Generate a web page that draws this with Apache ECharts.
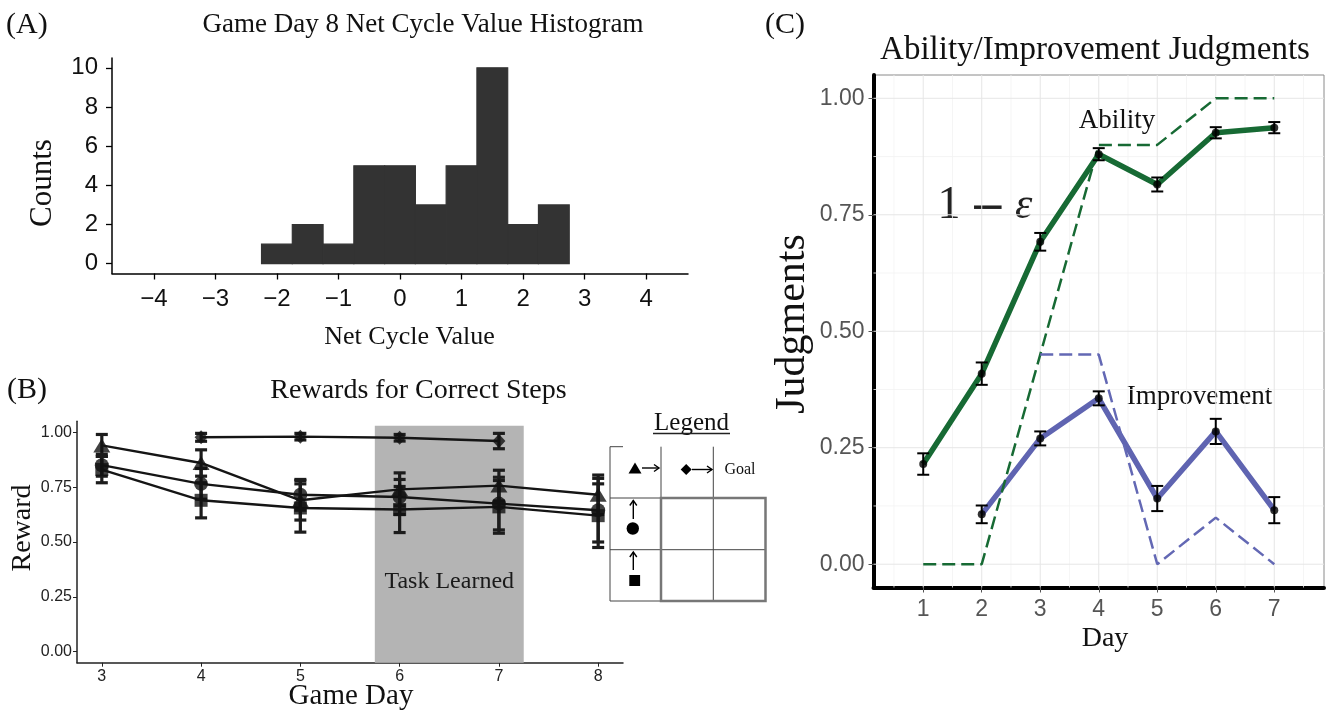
<!DOCTYPE html>
<html><head><meta charset="utf-8">
<script src="https://cdn.jsdelivr.net/npm/echarts@6/dist/echarts.min.js"></script>
<style>html,body{margin:0;padding:0;background:#fff}#chart{width:1326px;height:711px}</style>
</head><body><div id="chart"></div>
<script>
// ---------- Panel A: histogram ----------
const histBinLeft = [-2.25, -1.75, -1.25, -0.75, -0.25, 0.25, 0.75, 1.25, 1.75, 2.25];
const histCounts = [1, 2, 1, 5, 5, 3, 5, 10, 2, 3];
const histBinWidth = 0.5;
const histXTicks = [-4, -3, -2, -1, 0, 1, 2, 3, 4];
const histYTicks = [0, 2, 4, 6, 8, 10];

// ---------- Panel B: rewards ----------
const gameDays = [3, 4, 5, 6, 7, 8];
const rewardTriangle = [0.94, 0.86, 0.69, 0.74, 0.757, 0.715];
const rewardTriangleErr = [0.05, 0.06, 0.09, 0.075, 0.07, 0.09];
const rewardCircle = [0.85, 0.765, 0.715, 0.705, 0.675, 0.645];
const rewardCircleErr = [0.05, 0.07, 0.07, 0.08, 0.12, 0.145];
const rewardSquare = [0.83, 0.69, 0.655, 0.648, 0.66, 0.62];
const rewardSquareErr = [0.06, 0.08, 0.11, 0.105, 0.12, 0.145];
const rewardDiamond = [null, 0.977, 0.98, 0.975, 0.96, null];
const rewardDiamondErr = [null, 0.018, 0.015, 0.015, 0.035, null];
const rewardYTicks = [0, 0.25, 0.5, 0.75, 1];
const taskLearnedSpan = [5.75, 7.25];

// ---------- Panel C: judgments ----------
const judgDays = [1, 2, 3, 4, 5, 6, 7];
const abilityMean = [0.215, 0.409, 0.692, 0.88, 0.815, 0.926, 0.937];
const abilityErr = [0.023, 0.024, 0.019, 0.013, 0.015, 0.012, 0.012];
const improvementMean = [null, 0.107, 0.27, 0.356, 0.141, 0.285, 0.116];
const improvementErr = [null, 0.019, 0.015, 0.015, 0.027, 0.027, 0.028];
const abilityModel = [0, 0, 0.45, 0.9, 0.9, 1.0, 1.0];
const improvementModel = [null, null, 0.45, 0.45, 0, 0.1, 0];
const judgYTicks = [0, 0.25, 0.5, 0.75, 1];
const judgGridMinorX = [0.5, 1.5, 2.5, 3.5, 4.5, 5.5, 6.5, 7.5];
const judgGridMinorY = [0.125, 0.375, 0.625, 0.875];

const C_XMIN = 0.15, C_XMAX = 7.85, C_YMIN = -0.05, C_YMAX = 1.05;

const SERIF = '"Liberation Serif", "Times New Roman", serif';
const SANS = '"Liberation Sans", Arial, sans-serif';

function pairs(xs, ys) {
  return xs.map((x, i) => ys[i] == null ? null : [x, ys[i]]).filter(d => d);
}
function errData(xs, means, errs) {
  return xs.map((x, i) => means[i] == null ? null : [x, means[i] - errs[i], means[i] + errs[i]]).filter(d => d);
}
function errorBarRender(capHalf, lw, color) {
  return function (params, api) {
    const x = api.value(0), lo = api.value(1), hi = api.value(2);
    const a = api.coord([x, hi]), b = api.coord([x, lo]);
    const st = { stroke: color, lineWidth: lw };
    return { type: 'group', children: [
      { type: 'line', shape: { x1: a[0], y1: a[1], x2: b[0], y2: b[1] }, style: st },
      { type: 'line', shape: { x1: a[0] - capHalf, y1: a[1], x2: a[0] + capHalf, y2: a[1] }, style: st },
      { type: 'line', shape: { x1: b[0] - capHalf, y1: b[1], x2: b[0] + capHalf, y2: b[1] }, style: st }
    ]};
  };
}

function valAxis(gi, min, max, ticks, opts) {
  return {
    type: 'value', gridIndex: gi, min: min, max: max,
    axisLine: { show: true, onZero: false, lineStyle: { color: opts.lineColor, width: opts.lineWidth } },
    axisTick: { show: true, customValues: ticks, length: opts.tickLen, lineStyle: { color: opts.tickColor, width: opts.tickWidth || 1 } },
    axisLabel: { customValues: ticks, fontSize: opts.fontSize, fontFamily: SANS, color: opts.labelColor, margin: opts.margin,
      formatter: opts.formatter },
    splitLine: { show: false }
  };
}

const chart = echarts.init(document.getElementById('chart'));

const histData = histBinLeft.map((l, i) => [l, l + histBinWidth, histCounts[i]]);

const gridLineData = []
  .concat(judgGridMinorX.map(v => [v, 0, 0]))
  .concat(judgGridMinorY.map(v => [v, 1, 0]))
  .concat(judgDays.map(v => [v, 0, 1]))
  .concat(judgYTicks.map(v => [v, 1, 1]));

function txt(s, x, y, size, align, rot) {
  return { type: 'text', x: x, y: y, rotation: rot ? Math.PI / 2 : 0, silent: true,
    style: { text: s, font: size + 'px ' + SERIF, fill: '#111', align: align, verticalAlign: 'middle',
      textAlign: align, textVerticalAlign: 'middle' } };
}
function ln(x1, y1, x2, y2, c, w) {
  return { type: 'line', shape: { x1: x1, y1: y1, x2: x2, y2: y2 }, style: { stroke: c, lineWidth: w }, silent: true };
}
function arrowR(x1, x2, y) {
  return { type: 'group', silent: true, children: [
    ln(x1, y, x2, y, '#000', 1.4),
    { type: 'polyline', shape: { points: [[x2 - 5, y - 3.5], [x2, y], [x2 - 5, y + 3.5]] }, style: { stroke: '#000', lineWidth: 1.4, fill: 'none' } }
  ]};
}
function arrowU(x, y1, y2) {
  return { type: 'group', silent: true, children: [
    ln(x, y1, x, y2, '#000', 1.4),
    { type: 'polyline', shape: { points: [[x - 3.5, y2 + 5], [x, y2], [x + 3.5, y2 + 5]] }, style: { stroke: '#000', lineWidth: 1.4, fill: 'none' } }
  ]};
}

const option = {
  animation: false,
  backgroundColor: '#fff',
  grid: [
    { left: 112, top: 58, width: 576, height: 215.5 },
    { left: 77, top: 421.3, width: 546, height: 241.4 },
    { left: 873.5, top: 75, width: 450.5, height: 512.5, show: true, borderColor: '#8a8a8a', borderWidth: 1 }
  ],
  xAxis: [
    valAxis(0, -4.68, 4.68, histXTicks, { lineColor: '#000', lineWidth: 1.5, tickLen: 6, tickColor: '#000', tickWidth: 1.3,
      fontSize: 24, labelColor: '#111', margin: 14,
      formatter: v => v < 0 ? '\u2212' + (-v) : String(v) }),
    valAxis(1, 2.75, 8.25, gameDays, { lineColor: '#222', lineWidth: 1.5, tickLen: 4, tickColor: '#222',
      fontSize: 16, labelColor: '#222', margin: 6, formatter: v => String(v) }),
    valAxis(2, C_XMIN, C_XMAX, judgDays, { lineColor: '#000', lineWidth: 4, tickLen: 5, tickColor: '#555',
      fontSize: 23, labelColor: '#555', margin: 11, formatter: v => String(v) })
  ],
  yAxis: [
    valAxis(0, -0.5, 10.5, histYTicks, { lineColor: '#000', lineWidth: 1.5, tickLen: 6, tickColor: '#000', tickWidth: 1.3,
      fontSize: 24, labelColor: '#111', margin: 14, formatter: v => String(v) }),
    valAxis(1, -0.05, 1.05, rewardYTicks, { lineColor: '#222', lineWidth: 1.5, tickLen: 4, tickColor: '#222',
      fontSize: 16, labelColor: '#222', margin: 5, formatter: v => v.toFixed(2) }),
    valAxis(2, C_YMIN, C_YMAX, judgYTicks, { lineColor: '#000', lineWidth: 4, tickLen: 5, tickColor: '#555',
      fontSize: 23, labelColor: '#555', margin: 9, formatter: v => v.toFixed(2) })
  ],
  series: [
    // ---- A ----
    { type: 'custom', xAxisIndex: 0, yAxisIndex: 0, data: histData, silent: true, z: 2,
      encode: { x: [0, 1], y: 2 },
      renderItem: function (params, api) {
        const p0 = api.coord([api.value(0), api.value(2)]);
        const p1 = api.coord([api.value(1), 0]);
        return { type: 'rect', shape: { x: p0[0], y: p0[1], width: p1[0] - p0[0], height: p1[1] - p0[1] },
          style: { fill: '#333333', stroke: '#333333', lineWidth: 1.2 } };
      } },
    // ---- B ----
    { type: 'custom', xAxisIndex: 1, yAxisIndex: 1, silent: true, z: 1,
      data: [[taskLearnedSpan[0], taskLearnedSpan[1]]],
      encode: { x: [0, 1] },
      renderItem: function (params, api) {
        const a = api.coord([api.value(0), 1.03]);
        const b = api.coord([api.value(1), -0.05]);
        const t = api.coord([(api.value(0) + api.value(1)) / 2, 0.32]);
        return { type: 'group', children: [
          { type: 'rect', shape: { x: a[0], y: a[1], width: b[0] - a[0], height: b[1] - a[1] }, style: { fill: '#b4b4b4' } },
          { type: 'text', x: t[0], y: t[1], style: { text: 'Task Learned', font: '24px ' + SERIF, fill: '#1a1a1a',
            align: 'center', verticalAlign: 'middle', textAlign: 'center', textVerticalAlign: 'middle' } }
        ]};
      } },
    ...[rewardTriangle, rewardCircle, rewardSquare, rewardDiamond].map(ys => ({
      type: 'line', xAxisIndex: 1, yAxisIndex: 1, data: pairs(gameDays, ys), showSymbol: false, silent: true, z: 3,
      lineStyle: { color: '#151515', width: 2.4 } })),
    ...[[rewardTriangle, rewardTriangleErr], [rewardCircle, rewardCircleErr], [rewardSquare, rewardSquareErr], [rewardDiamond, rewardDiamondErr]]
      .map(([ys, es]) => ({ type: 'custom', xAxisIndex: 1, yAxisIndex: 1, silent: true, z: 4,
        data: errData(gameDays, ys, es), encode: { x: 0, y: [1, 2] }, renderItem: errorBarRender(6, 3.2, '#1c1c1c') })),
    { type: 'scatter', xAxisIndex: 1, yAxisIndex: 1, data: pairs(gameDays, rewardTriangle), symbol: 'triangle', symbolSize: [17, 14], itemStyle: { color: '#111' }, z: 5, silent: true },
    { type: 'scatter', xAxisIndex: 1, yAxisIndex: 1, data: pairs(gameDays, rewardCircle), symbol: 'circle', symbolSize: 14, itemStyle: { color: '#111' }, z: 5, silent: true },
    { type: 'scatter', xAxisIndex: 1, yAxisIndex: 1, data: pairs(gameDays, rewardSquare), symbol: 'rect', symbolSize: 13, itemStyle: { color: '#111' }, z: 5, silent: true },
    { type: 'scatter', xAxisIndex: 1, yAxisIndex: 1, data: pairs(gameDays, rewardDiamond), symbol: 'diamond', symbolSize: [13, 14], itemStyle: { color: '#111' }, z: 5, silent: true },
    // ---- C ----
    { type: 'custom', xAxisIndex: 2, yAxisIndex: 2, silent: true, z: 1, data: gridLineData,
      encode: { x: 0 },
      renderItem: function (params, api) {
        const v = api.value(0), horiz = api.value(1) === 1, major = api.value(2) === 1;
        let a, b;
        if (horiz) { a = api.coord([C_XMIN, v]); b = api.coord([C_XMAX, v]); }
        else { a = api.coord([v, C_YMIN]); b = api.coord([v, C_YMAX]); }
        return { type: 'line', shape: { x1: a[0], y1: a[1], x2: b[0], y2: b[1] },
          style: { stroke: major ? '#e6e6e6' : '#f3f3f3', lineWidth: major ? 1 : 0.8 } };
      } },
    { type: 'line', xAxisIndex: 2, yAxisIndex: 2, data: pairs(judgDays, abilityMean), showSymbol: false, silent: true, z: 3,
      lineStyle: { color: '#176a34', width: 5.5, join: 'round' } },
    { type: 'line', xAxisIndex: 2, yAxisIndex: 2, data: pairs(judgDays, improvementMean), showSymbol: false, silent: true, z: 3,
      lineStyle: { color: '#5f64b1', width: 5.5, join: 'round' } },
    { type: 'line', xAxisIndex: 2, yAxisIndex: 2, data: pairs(judgDays, abilityModel), showSymbol: false, silent: true, z: 4,
      lineStyle: { color: '#176a34', width: 2.5, type: [13, 6] } },
    { type: 'line', xAxisIndex: 2, yAxisIndex: 2, data: pairs(judgDays, improvementModel), showSymbol: false, silent: true, z: 4,
      lineStyle: { color: '#6368b4', width: 2.5, type: [13, 6] } },
    { type: 'custom', xAxisIndex: 2, yAxisIndex: 2, silent: true, z: 5,
      data: errData(judgDays, abilityMean, abilityErr), encode: { x: 0, y: [1, 2] }, renderItem: errorBarRender(6, 2, '#000') },
    { type: 'custom', xAxisIndex: 2, yAxisIndex: 2, silent: true, z: 5,
      data: errData(judgDays, improvementMean, improvementErr), encode: { x: 0, y: [1, 2] }, renderItem: errorBarRender(6, 2, '#000') },
    { type: 'scatter', xAxisIndex: 2, yAxisIndex: 2, data: pairs(judgDays, abilityMean), symbol: 'circle', symbolSize: 8, itemStyle: { color: '#000' }, z: 6, silent: true },
    { type: 'scatter', xAxisIndex: 2, yAxisIndex: 2, data: pairs(judgDays, improvementMean), symbol: 'circle', symbolSize: 8, itemStyle: { color: '#000' }, z: 6, silent: true }
  ],
  graphic: [
    txt('(A)', 6, 25, 30, 'left'),
    txt('Game Day 8 Net Cycle Value Histogram', 423, 25, 27, 'center'),
    txt('Counts', 43, 183, 31, 'center', true),
    txt('Net Cycle Value', 409.5, 337, 26, 'center'),
    txt('(B)', 7, 390, 30, 'left'),
    txt('Rewards for Correct Steps', 418.5, 391, 28, 'center'),
    txt('Reward', 23, 528, 28, 'center', true),
    txt('Game Day', 351, 696, 29, 'center'),
    txt('(C)', 765, 25, 30, 'left'),
    txt('Ability/Improvement Judgments', 1095, 50, 33, 'center'),
    txt('Judgments', 793, 324, 42, 'center', true),
    txt('Day', 1105, 639, 28, 'center'),
    txt('Ability', 1117, 121, 27, 'center'),
    txt('Improvement', 1199.5, 396.5, 27, 'center'),
    { type: 'text', x: 985, y: 206, silent: true,
      style: { text: '{a|1}{b|\u2009\u2212\u2009}{c|\u03b5}', align: 'center', verticalAlign: 'middle',
        textAlign: 'center', textVerticalAlign: 'middle',
        rich: {
          a: { font: '46px ' + SERIF, fill: '#222', verticalAlign: 'middle' },
          b: { font: '44px "DejaVu Serif", serif', fill: '#222', verticalAlign: 'middle', padding: [8, 0, 0, 0] },
          c: { font: 'italic 44px ' + SERIF, fill: '#222', verticalAlign: 'middle' }
        } } },
    // legend box for panel B
    txt('Legend', 691.5, 423, 25, 'center'),
    ln(653, 433.5, 730, 433.5, '#222', 1.3),
    ln(610, 446.7, 610, 601, '#444', 1),
    ln(661, 446.7, 661, 601, '#444', 1),
    ln(713.3, 446.7, 713.3, 601, '#444', 1),
    ln(610, 446.7, 623, 446.7, '#444', 1),
    ln(610, 498, 765.5, 498, '#444', 1),
    ln(610, 549.7, 765.5, 549.7, '#444', 1),
    ln(610, 601, 765.5, 601, '#444', 1),
    { type: 'rect', shape: { x: 661, y: 498, width: 104.5, height: 103 }, style: { fill: 'none', stroke: '#777', lineWidth: 2.5 }, silent: true },
    { type: 'polygon', shape: { points: [[628.5, 473.5], [641.5, 473.5], [635, 462.5]] }, style: { fill: '#000' }, silent: true },
    arrowR(642, 659, 468),
    { type: 'polygon', shape: { points: [[686.2, 464], [691.7, 469.5], [686.2, 475], [680.7, 469.5]] }, style: { fill: '#000' }, silent: true },
    arrowR(692, 712, 469.5),
    txt('Goal', 740, 470, 16, 'center'),
    arrowU(633.3, 519, 500.5),
    { type: 'circle', shape: { cx: 632.8, cy: 528.5, r: 6.2 }, style: { fill: '#000' }, silent: true },
    arrowU(633.3, 570, 552),
    { type: 'rect', shape: { x: 629.3, y: 575, width: 10.8, height: 11 }, style: { fill: '#000' }, silent: true }
  ]
};

chart.setOption(option);
</script>
</body></html>
